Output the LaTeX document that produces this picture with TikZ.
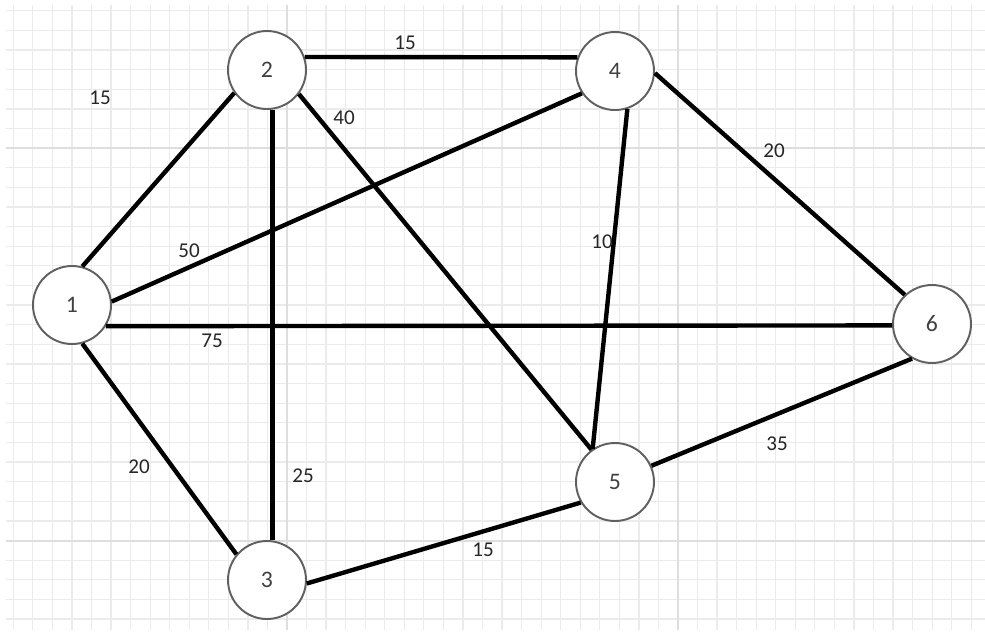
\documentclass[tikz,border=0pt]{standalone}
\usepackage{fontspec}
\setmainfont{Carlito}
\begin{document}
\begin{tikzpicture}[x=0.02cm, y=-0.02cm,
    vertex/.style={circle, draw=gray!75!black, line width=1.1pt, fill=white,
      minimum size=1.56cm, inner sep=0pt, font=\fontsize{13.5}{15}\selectfont, text=black!75},
    edge/.style={line width=2.5pt},
    weight/.style={font=\fontsize{12}{14}\selectfont, text=black!85}]
    \useasboundingbox (0,0) rectangle (985,633);
    % 格子
    \foreach \k in {0,...,49}
      \draw[black!8, line width=0.7pt] (13.3+19.55*\k,5) -- (13.3+19.55*\k,630);
    \foreach \k in {0,...,31}
      \draw[black!8, line width=0.7pt] (6,10.8+19.62*\k) -- (985,10.8+19.62*\k);
    \foreach \x in {287,678}
      \draw[black!13, line width=1.1pt] (\x,5) -- (\x,630);
    \foreach \y in {148,541}
      \draw[black!13, line width=1.1pt] (6,\y) -- (985,\y);
    % 頂点
    \node[vertex] (n1) at (72,305) {1};
    \node[vertex] (n2) at (267,70) {2};
    \node[vertex] (n3) at (267,580) {3};
    \node[vertex] (n4) at (615,71) {4};
    \node[vertex] (n5) at (615,482) {5};
    \node[vertex] (n6) at (932,324) {6};
    % 辺
    \draw[edge] (n1.75) -- (n2.215);
    \draw[edge] (n1.5) -- (n4.214);
    \draw[edge] (n1.-32) -- (n6.182);
    \draw[edge] (n1.-75) -- (n3.140);
    \draw[edge] (n2.19) -- (n4.160);
    \draw[edge] (n2.-82) -- (n3.82);
    \draw[edge] (n2.-37) -- (n5.126);
    \draw[edge] (n4.-72) -- (n5.124);
    \draw[edge] (n4.-3) -- (n6.133);
    \draw[edge] (n5.24) -- (n6.-120);
    \draw[edge] (n3.-5) -- (n5.211);
    % 重み
    \node[weight] (w12) at (100,98) {15};
    \node[weight] (w24) at (405,43) {15};
    \node[weight] (w25) at (344,118) {40};
    \node[weight] (w46) at (774,151) {20};
    \node[weight] (w14) at (189,251) {50};
    \node[weight] (w45) at (602,242) {10};
    \node[weight] (w16) at (212,341) {75};
    \node[weight] (w13) at (139,467) {20};
    \node[weight] (w23) at (303,476) {25};
    \node[weight] (w56) at (777,444) {35};
    \node[weight] (w35) at (483,550) {15};
  \end{tikzpicture}
\end{document}
